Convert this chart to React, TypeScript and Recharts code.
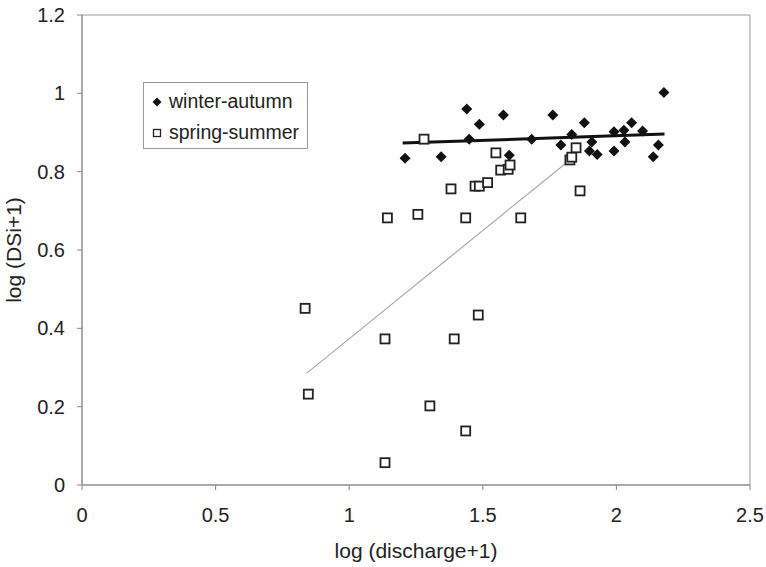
import { ScatterChart, Scatter, XAxis, YAxis, ReferenceLine, ReferenceArea } from 'recharts';

document.body.style.margin = '0';

const xTicks = [0, 0.5, 1, 1.5, 2, 2.5];
const yTicks = [0, 0.2, 0.4, 0.6, 0.8, 1, 1.2];

// winter-autumn (filled diamonds)
const winterX = [1.209, 1.344, 1.44, 1.449, 1.487, 1.577, 1.599, 1.683, 1.762, 1.792, 1.833, 1.88, 1.908, 1.899, 1.928, 1.991, 1.991, 2.028, 2.057, 2.032, 2.098, 2.178, 2.157, 2.138];
const winterY = [0.834, 0.838, 0.96, 0.883, 0.921, 0.945, 0.842, 0.883, 0.945, 0.868, 0.895, 0.925, 0.876, 0.853, 0.844, 0.853, 0.902, 0.906, 0.925, 0.876, 0.904, 1.002, 0.868, 0.838];

// spring-summer (open squares)
const springX = [0.835, 0.847, 1.134, 1.134, 1.143, 1.257, 1.28, 1.302, 1.381, 1.393, 1.436, 1.436, 1.471, 1.483, 1.487, 1.518, 1.549, 1.567, 1.595, 1.602, 1.642, 1.826, 1.833, 1.849, 1.864];
const springY = [0.451, 0.232, 0.057, 0.373, 0.682, 0.691, 0.883, 0.202, 0.756, 0.373, 0.682, 0.138, 0.763, 0.434, 0.763, 0.772, 0.848, 0.804, 0.806, 0.817, 0.682, 0.83, 0.837, 0.861, 0.751];

// trend line end points
const winterTrend = [{ x: 1.2, y: 0.873 }, { x: 2.18, y: 0.896 }];
const springTrend = [{ x: 0.84, y: 0.285 }, { x: 1.826, y: 0.83 }];

const winterData = winterX.map((x, i) => ({ x, y: winterY[i] }));
const springData = springX.map((x, i) => ({ x, y: springY[i] }));

const font = '"Liberation Sans", Arial, sans-serif';

const Diamond = (props: any) => {
  const { cx, cy } = props;
  const r = 5.5;
  return <polygon points={`${cx},${cy - r} ${cx + r},${cy} ${cx},${cy + r} ${cx - r},${cy}`} fill="#111" />;
};

const Square = (props: any) => {
  const { cx, cy } = props;
  return <rect x={cx - 4.5} y={cy - 4.5} width={9} height={9} fill="#fff" stroke="#222" strokeWidth={1.8} />;
};

const LegendBox = () => (
  <div
    style={{
      position: 'absolute',
      left: 143,
      top: 82,
      border: '1px solid #999',
      background: '#fff',
      width: 165,
      height: 67,
      boxSizing: 'border-box',
      fontFamily: font,
      fontSize: 19.5,
      color: '#222',
      padding: '3px 0 0 7px',
      lineHeight: '31px',
      whiteSpace: 'nowrap',
    }}
  >
    <div style={{ display: 'flex', alignItems: 'center' }}>
      <svg width={12} height={12} style={{ marginRight: 6 }}>
        <polygon points="6,1.5 10.5,6 6,10.5 1.5,6" fill="#111" />
      </svg>
      winter-autumn
    </div>
    <div style={{ display: 'flex', alignItems: 'center' }}>
      <svg width={12} height={12} style={{ marginRight: 6 }}>
        <rect x={2.5} y={2.5} width={7} height={7} fill="#fff" stroke="#222" strokeWidth={1.3} />
      </svg>
      spring-summer
    </div>
  </div>
);

export default function App() {
  return (
    <div style={{ position: 'relative', width: 766, height: 567 }}>
      <ScatterChart width={766} height={567} margin={{ top: 15, right: 16, left: 0, bottom: 0 }}>
        <ReferenceArea x1={0} x2={2.5} y1={0} y2={1.2} fill="none" stroke="#999" strokeWidth={1} />
        <XAxis
          type="number"
          dataKey="x"
          domain={[0, 2.5]}
          ticks={xTicks}
          height={82}
          stroke="#888"
          tickSize={5}
          tickMargin={18}
          tick={{ fontSize: 20, fill: '#222', fontFamily: font }}
          label={{ value: 'log (discharge+1)', position: 'insideBottom', offset: 9, fontSize: 21, fill: '#222', fontFamily: font }}
        />
        <YAxis
          type="number"
          dataKey="y"
          domain={[0, 1.2]}
          ticks={yTicks}
          width={82}
          stroke="#888"
          tickSize={5}
          tickMargin={12}
          tick={{ fontSize: 20, fill: '#222', fontFamily: font }}
          label={{ value: 'log (DSi+1)', angle: -90, position: 'insideLeft', offset: 14, style: { textAnchor: 'middle' }, fontSize: 21, fill: '#222', fontFamily: font }}
        />
        <ReferenceLine segment={springTrend} stroke="#aaa" strokeWidth={1.2} />
        <Scatter name="spring-summer" data={springData} shape={Square} isAnimationActive={false} />
        <ReferenceLine segment={winterTrend} stroke="#111" strokeWidth={3} />
        <Scatter name="winter-autumn" data={winterData} shape={Diamond} isAnimationActive={false} />
      </ScatterChart>
      <LegendBox />
    </div>
  );
}
